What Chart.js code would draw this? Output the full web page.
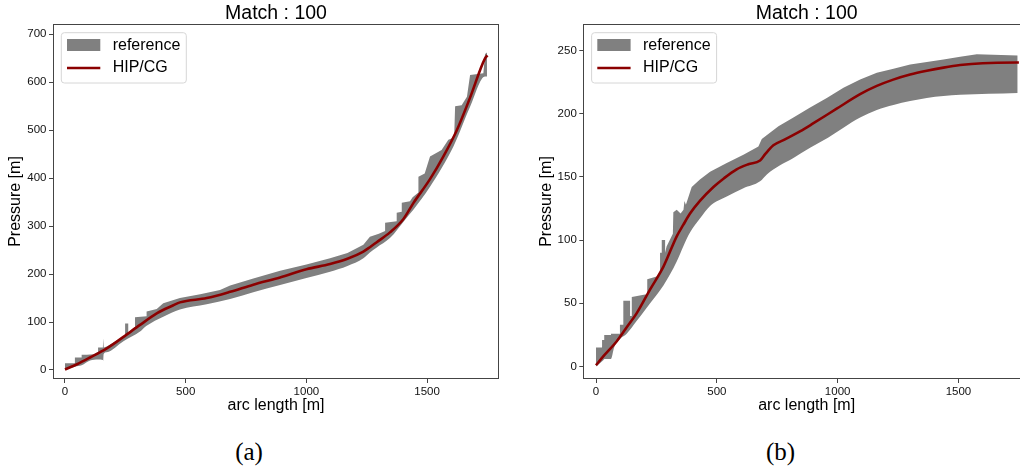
<!DOCTYPE html>
<html>
<head>
<meta charset="utf-8">
<script src="https://cdn.jsdelivr.net/npm/chart.js@4/dist/chart.umd.min.js"></script>
<style>
html, body { margin: 0; padding: 0; background: #fff; overflow: hidden; width: 1020px; height: 468px; }
#wrap { position: relative; width: 1020px; height: 468px; overflow: hidden; }
canvas { position: absolute; top: 0; }
#chartA { left: 0; }
#chartB { left: 510px; }
.cap { position: absolute; top: 439px; line-height: 25px; font-size: 25px; font-family: "Liberation Serif", "DejaVu Serif", serif; color: #000; transform: translateX(-50%); white-space: nowrap; }
</style>
</head>
<body>
<div id="wrap">
  <canvas id="chartA" width="510" height="430"></canvas>
  <canvas id="chartB" width="525" height="430"></canvas>
  <div class="cap" style="left:249px">(a)</div>
  <div class="cap" style="left:780.5px">(b)</div>
</div>
<script>
// ---------- shared labels / ticks ----------
const titleText = 'Match : 100';
const xLabel = 'arc length [m]';
const yLabel = 'Pressure [m]';
const bandLabel = 'reference';
const lineLabel = 'HIP/CG';
const xTickValues = [0, 500, 1000, 1500];
const yTicksA = [0, 100, 200, 300, 400, 500, 600, 700];
const yTicksB = [0, 50, 100, 150, 200, 250];

// ---------- panel (a) ----------
const hipAx = [0, 50, 104, 173, 242, 311, 380, 449, 476, 587, 684, 780, 891, 1000, 1098, 1170, 1236, 1263, 1290, 1346, 1402, 1443, 1512, 1567, 1623, 1678, 1740, 1750];
const hipAy = [1, 12, 26, 45, 69, 94, 118, 135, 141, 150, 163, 178, 193, 210, 221, 232, 247, 256, 266, 287, 315, 348, 398, 445, 500, 568, 650, 656];

const refAUpperX = [0, 41, 41, 69, 69, 90, 120, 137, 137, 157, 158, 160, 161, 173, 200, 249, 249, 262, 262, 290, 290, 338, 338, 380, 407, 476, 560, 642, 684, 780, 891, 1000, 1098, 1170, 1236, 1263, 1300, 1326, 1326, 1374, 1374, 1395, 1395, 1429, 1440, 1464, 1464, 1490, 1512, 1560, 1588, 1612, 1616, 1643, 1665, 1678, 1733, 1740, 1748];
const refAUpperY = [14, 14, 26, 26, 32, 32, 33, 38, 47, 47, 66, 66, 47, 49, 57, 72, 97, 97, 78, 90, 110, 112, 122, 127, 139, 150, 158, 167, 176, 191, 207, 220, 233, 244, 261, 278, 284, 290, 307, 310, 328, 330, 349, 352, 360, 370, 403, 410, 445, 459, 480, 485, 550, 552, 570, 615, 619, 659, 662];
const refALowerX = [0, 41, 69, 104, 137, 157, 158, 160, 173, 242, 311, 338, 407, 476, 587, 684, 780, 891, 1000, 1098, 1170, 1236, 1263, 1290, 1346, 1408, 1443, 1512, 1609, 1678, 1740, 1748];
const refALowerY = [0, 7, 10, 20, 22, 21, 19, 33, 37, 60, 80, 92, 111, 126, 137, 148, 162, 177, 192, 205, 217, 233, 245, 255, 275, 313, 334, 382, 466, 549, 612, 612];

// ---------- panel (b) ----------
const hipBx = [0, 30, 86, 127, 168, 224, 279, 334, 361, 389, 430, 486, 530, 582, 630, 679, 700, 734, 780, 844, 900, 996, 1093, 1162, 1230, 1300, 1369, 1438, 1507, 1600, 1741, 1750];
const hipBy = [1, 8, 20, 31, 42, 61, 79, 103, 112, 121, 131, 142, 149, 156, 160, 163, 168, 175, 179.5, 186, 192.5, 204, 215.5, 222, 227, 231, 234, 236.5, 238.5, 240, 240.5, 240.5];

const refBUpperX = [0, 25, 25, 34, 34, 62, 62, 99, 99, 113, 113, 141, 141, 148, 148, 203, 212, 212, 265, 265, 272, 272, 286, 286, 292, 318, 320, 334, 350, 362, 366, 372, 396, 430, 472, 541, 610, 672, 686, 755, 817, 886, 955, 1024, 1093, 1162, 1231, 1300, 1369, 1438, 1507, 1576, 1745];
const refBUpperY = [15, 15, 21, 21, 25, 25, 26, 26, 33, 33, 52, 52, 40, 40, 55, 57, 57, 69, 72, 90, 90, 100, 100, 90, 95, 105, 122, 124, 121, 124, 131, 128, 142, 148, 154, 161, 167.5, 174, 180, 190, 197, 205, 212.5, 220.5, 227, 232.5, 235.5, 239, 241, 243, 245, 247, 246];
const refBLowerX = [0, 30, 35, 62, 75, 100, 127, 168, 196, 224, 279, 334, 361, 389, 430, 472, 541, 610, 679, 707, 760, 817, 886, 960, 1024, 1093, 1162, 1231, 1300, 1369, 1507, 1745];
const refBLowerY = [0, 5, 6, 6, 15, 22, 26, 36, 43, 50, 64, 83, 95, 106, 117, 127, 134.5, 141, 146.5, 152, 159, 165, 173, 181, 189, 197, 203, 207, 210, 212.5, 215, 216.5];

// ---------- styling ----------
const FONT = '"Liberation Sans", Arial, Helvetica, sans-serif';
const SPINE = '#444444';
const BAND = '#808080';
const LINE = '#8b0000';
Chart.defaults.font.family = FONT;

const toPts = (xs, ys) => xs.map((x, i) => ({ x: x, y: ys[i] }));

const panelPlugin = {
  id: 'panel',
  afterDraw(chart) {
    const { ctx, chartArea: a } = chart;
    ctx.save();
    // full frame (all four spines)
    ctx.strokeStyle = SPINE;
    ctx.lineWidth = 1;
    const l = Math.round(a.left) + 0.5, t = Math.round(a.top) + 0.5;
    const r = Math.round(a.right) - 0.5, b = Math.round(a.bottom) - 0.5;
    ctx.strokeRect(l, t, r - l, b - t);
    // legend box
    const bx = a.left + 8.3, by = a.top + 8.7, bw = 125, bh = 50.3, rad = 3;
    ctx.beginPath();
    ctx.moveTo(bx + rad, by);
    ctx.lineTo(bx + bw - rad, by);
    ctx.arcTo(bx + bw, by, bx + bw, by + rad, rad);
    ctx.lineTo(bx + bw, by + bh - rad);
    ctx.arcTo(bx + bw, by + bh, bx + bw - rad, by + bh, rad);
    ctx.lineTo(bx + rad, by + bh);
    ctx.arcTo(bx, by + bh, bx, by + bh - rad, rad);
    ctx.lineTo(bx, by + rad);
    ctx.arcTo(bx, by, bx + rad, by, rad);
    ctx.closePath();
    ctx.fillStyle = 'rgba(255,255,255,0.8)';
    ctx.fill();
    ctx.strokeStyle = '#d6d6d6';
    ctx.stroke();
    const lineDs = chart.data.datasets[0];
    const bandDs = chart.data.datasets[1];
    ctx.fillStyle = bandDs.backgroundColor;
    ctx.fillRect(a.left + 14, a.top + 15, 33.3, 12);
    ctx.strokeStyle = lineDs.borderColor;
    ctx.lineWidth = lineDs.borderWidth;
    ctx.beginPath();
    ctx.moveTo(a.left + 14, a.top + 44);
    ctx.lineTo(a.left + 47.3, a.top + 44);
    ctx.stroke();
    ctx.fillStyle = '#000';
    ctx.font = '16px ' + FONT;
    ctx.textBaseline = 'middle';
    ctx.textAlign = 'left';
    ctx.fillText(bandDs.label, a.left + 59.7, a.top + 21.7);
    ctx.fillText(lineDs.label, a.left + 59.7, a.top + 44);
    ctx.restore();
  }
};

function makeChart(id, cfg) {
  const tickFont = { family: FONT, size: 11.5 };
  const gridOpts = { display: true, drawOnChartArea: false, drawTicks: true, tickLength: 4, color: SPINE, lineWidth: 1 };
  return new Chart(document.getElementById(id), {
    type: 'line',
    data: {
      datasets: [
        { label: lineLabel, data: toPts(cfg.hipX, cfg.hipY), borderColor: LINE, borderWidth: 2.6, pointRadius: 0, fill: false, cubicInterpolationMode: 'monotone', order: 0 },
        { label: bandLabel, data: toPts(cfg.upX, cfg.upY), borderWidth: 0, borderColor: 'rgba(0,0,0,0)', backgroundColor: BAND, pointRadius: 0, fill: '+1', tension: 0, order: 1 },
        { label: bandLabel + ' (lower)', data: toPts(cfg.loX, cfg.loY), borderWidth: 0, borderColor: 'rgba(0,0,0,0)', backgroundColor: BAND, pointRadius: 0, fill: false, cubicInterpolationMode: 'monotone', order: 2 }
      ]
    },
    options: {
      responsive: false,
      animation: false,
      events: [],
      layout: { padding: cfg.padding },
      plugins: {
        legend: { display: false },
        tooltip: { enabled: false },
        title: {
          display: true, text: titleText, fullSize: false, color: '#000',
          font: { family: FONT, size: 19.5, weight: 'normal', lineHeight: 1 },
          padding: { top: 3.75, bottom: 0.75 }
        }
      },
      scales: {
        x: {
          type: 'linear', min: cfg.xMin, max: cfg.xMax,
          afterBuildTicks: s => { s.ticks = xTickValues.map(v => ({ value: v })); },
          afterFit: s => { s.height = 51; },
          ticks: { callback: v => String(v), font: tickFont, color: '#111', padding: 1.5, maxRotation: 0, autoSkip: false },
          grid: gridOpts,
          border: { display: false },
          title: { display: true, text: xLabel, color: '#000', font: { family: FONT, size: 16 }, padding: { top: 0, bottom: 14.4 } }
        },
        y: {
          type: 'linear', min: cfg.yMin, max: cfg.yMax,
          afterBuildTicks: s => { s.ticks = cfg.yTicks.map(v => ({ value: v })); },
          afterFit: s => { s.width = cfg.yWidth; },
          ticks: { callback: v => String(v), font: tickFont, color: '#111', padding: 2.5, autoSkip: false },
          grid: gridOpts,
          border: { display: false },
          title: { display: true, text: yLabel, color: '#000', font: { family: FONT, size: 16 }, padding: { top: 6.1, bottom: 0 } }
        }
      }
    },
    plugins: [panelPlugin]
  });
}

makeChart('chartA', {
  hipX: hipAx, hipY: hipAy, upX: refAUpperX, upY: refAUpperY, loX: refALowerX, loY: refALowerY,
  xMin: -49.7, xMax: 1797.8, yMin: -18.8, yMax: 721.5, yTicks: yTicksA, yWidth: 53,
  padding: { left: 0, right: 11, top: 0, bottom: 0 }
});
makeChart('chartB', {
  hipX: hipBx, hipY: hipBy, upX: refBUpperX, upY: refBUpperY, loX: refBLowerX, loY: refBLowerY,
  xMin: -52.6, xMax: 1796, yMin: -9.9, yMax: 271, yTicks: yTicksB, yWidth: 52.3,
  padding: { left: 21, right: 5, top: 0, bottom: 0 }
});
</script>
</body>
</html>
